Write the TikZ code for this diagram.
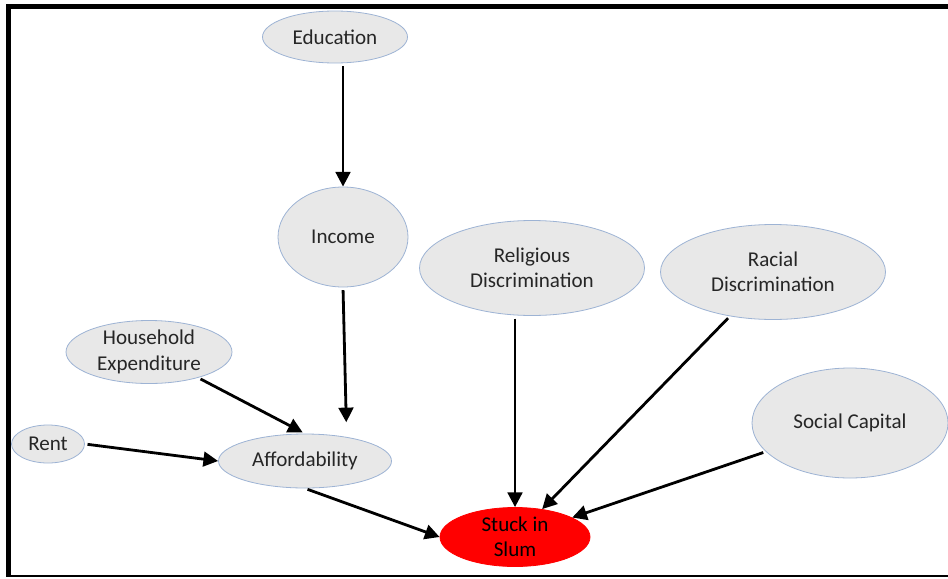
\documentclass[tikz,border=0pt]{standalone}
\usepackage{fontspec}
\setmainfont{Carlito}
\usepackage{tikz}
\usepackage{xcolor}
\usetikzlibrary{arrows.meta,shapes.geometric}

\definecolor{bubblefill}{HTML}{E8E8E8}
\definecolor{bubbleline}{HTML}{9DB3D4}
\definecolor{textgray}{HTML}{262626}

\begin{document}
\begin{tikzpicture}[x=0.75pt,y=-0.75pt,
  factor/.style={ellipse,draw=bubbleline,fill=bubblefill,line width=0.6pt,inner sep=0pt,
    align=center,text=textgray,font=\fontsize{15.8pt}{19pt}\selectfont},
  outcome/.style={factor,draw=red,fill=red,text=black},
  link/.style={-{Triangle[length=11pt,width=11pt]},line width=2.1pt,black,shorten <=2pt}]

\useasboundingbox (0,0) rectangle (948,578);

% frame
\draw[line width=3.75pt] (948,6.5) -- (8.5,6.5) -- (8.5,577);
\draw[line width=1.5pt] (8.5,576) -- (948,576);

% factors
\node[factor,minimum width=108.75pt,minimum height=39pt] (edu) at (335,37) {Education};
\node[factor,minimum width=97.5pt,minimum height=75pt] (inc) at (343,237) {Income};
\node[factor,minimum width=168.75pt,minimum height=71.25pt] (rel) at (532,268) {Religious\\Discrimination};
\node[factor,minimum width=168.75pt,minimum height=71.25pt] (rac) at (773,272) {Racial\\Discrimination};
\node[factor,minimum width=124.5pt,minimum height=47.25pt] (hh) at (149,352) {Household\\Expenditure};
\node[factor,minimum width=54.75pt,minimum height=28.5pt] (rent) at (48,444) {Rent};
\node[factor,minimum width=129.75pt,minimum height=40.5pt] (aff) at (305,461) {Affordability};
\node[factor,minimum width=147pt,minimum height=82.5pt] (soc) at (850,423) {Social Capital};
\node[outcome,minimum width=112.5pt,minimum height=44.25pt] (slum) at (515,537) {Stuck in\\Slum};

% links
\draw[link] (edu.south -| inc.north) -- (inc.north);
\draw[link,shorten >=11pt] (inc.south) -- (aff.30);
\draw[link,shorten >=2pt] (hh) -- (aff.north);
\draw[link] (rent.east) -- (aff.west);
\draw[link] (aff.south) -- (slum.west);
\draw[link] (rel.south -| slum.north) -- (slum.north);
\draw[link] (rac) -- (slum);
\draw[link] (soc) -- (slum);

\end{tikzpicture}
\end{document}
